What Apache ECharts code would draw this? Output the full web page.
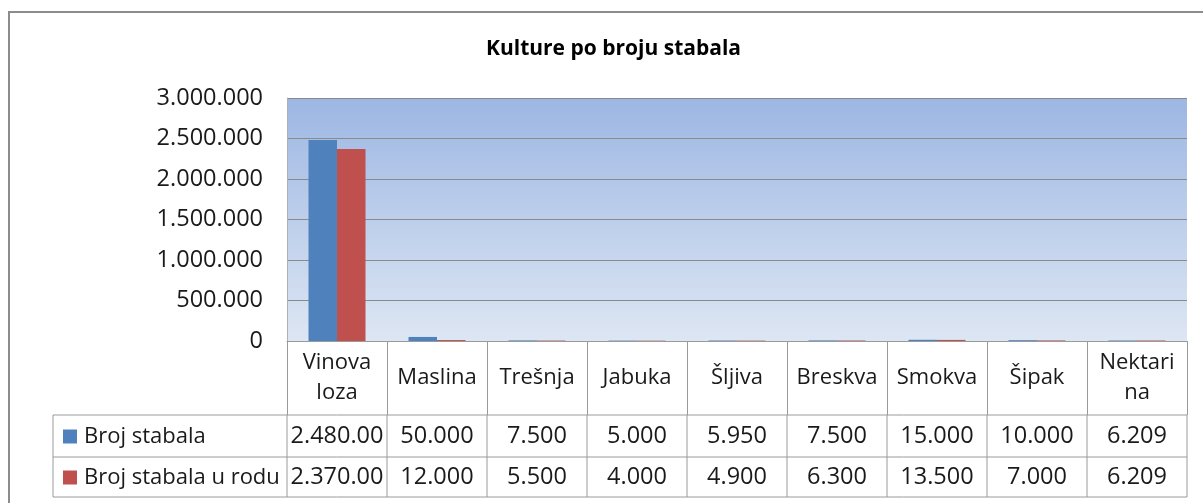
<!DOCTYPE html>
<html>
<head>
<meta charset="utf-8">
<script src="https://cdn.jsdelivr.net/npm/echarts@6/dist/echarts.min.js"></script>
<style>
html, body { margin: 0; padding: 0; background: #fff; }
#chart { width: 1203px; height: 503px; }
</style>
</head>
<body>
<div id="chart"></div>
<script>
const categories = ['Vinova loza', 'Maslina', 'Trešnja', 'Jabuka', 'Šljiva', 'Breskva', 'Smokva', 'Šipak', 'Nektarina']
const seriesNames = ['Broj stabala', 'Broj stabala u rodu']
const brojStabala = [2480000, 50000, 7500, 5000, 5950, 7500, 15000, 10000, 6209]
const brojURodu = [2370000, 12000, 5500, 4000, 4900, 6300, 13500, 7000, 6209]
const yTicks = [0, 500000, 1000000, 1500000, 2000000, 2500000, 3000000]

const FONT = '"Open Sans", "Noto Sans", sans-serif'
const TEXT = '#1a1a1a'
const LINE = '#9a9a9a'
const HEADER_H = 74 // visina reda s nazivima
const ROW_H = [42, 40]
const TABLE_LEFT = 53
const NUM_SIZE = 23.5

const fmt = (v) => String(v).replace(/\B(?=(\d{3})+(?!\d))/g, '.')

// prelamanje naziva kao u Excelu (po riječima, a predugu riječ po slovima)
const measureCtx = document.createElement('canvas').getContext('2d')
measureCtx.font = '22px ' + FONT
const wrapLabel = (txt, maxW) => {
  let lines = []
  let line = ''
  txt.split(' ').forEach(word => {
    const cand = line ? line + ' ' + word : word
    if (measureCtx.measureText(cand).width <= maxW) { line = cand; return }
    if (line) lines.push(line)
    line = ''
    for (const ch of word) {
      if (line && measureCtx.measureText(line + ch).width > maxW) { lines.push(line); line = ch }
      else line += ch
    }
  })
  if (line) lines.push(line)
  return lines.join('\n')
}

const chart = echarts.init(document.getElementById('chart'))

let option = {
  animation: false,
  title: {
    text: 'Kulture po broju stabala',
    left: 486,
    top: 39,
    padding: 0,
    textStyle: { fontFamily: FONT, fontSize: 21, fontWeight: 'bold', color: '#000' }
  },
  legend: {
    orient: 'vertical',
    left: 63,
    top: 416,
    padding: 0,
    itemGap: 0,
    itemWidth: 14,
    itemHeight: 14,
    icon: 'rect',
    selectedMode: false,
    data: seriesNames,
    textStyle: { fontFamily: FONT, fontSize: 22, color: TEXT, lineHeight: 41, padding: [0, 0, 0, 2] }
  },
  grid: {
    left: 287,
    right: 16,
    top: 98,
    bottom: 162,
    containLabel: false,
    outerBoundsMode: 'none',
    show: true,
    borderWidth: 0,
    backgroundColor: new echarts.graphic.LinearGradient(0, 0, 0, 1, [
      { offset: 0, color: '#9db7e3' },
      { offset: 1, color: '#dde6f3' }
    ])
  },
  xAxis: {
    type: 'category',
    data: categories,
    axisLine: { show: true, lineStyle: { color: LINE, width: 1 } },
    axisTick: { show: true, interval: 0, length: HEADER_H, lineStyle: { color: LINE, width: 1 } },
    axisLabel: {
      interval: 0,
      margin: HEADER_H / 2,
      verticalAlign: 'middle',
      lineHeight: 30,
      fontFamily: FONT,
      fontSize: 22,
      color: TEXT,
      formatter: (v) => wrapLabel(v, 82)
    }
  },
  yAxis: {
    type: 'value',
    min: yTicks[0],
    max: yTicks[yTicks.length - 1],
    interval: yTicks[1] - yTicks[0],
    axisLine: { show: true, lineStyle: { color: '#b0b0b0', width: 1 } },
    axisTick: { show: false },
    splitLine: { show: true, lineStyle: { color: '#8a8a8a', width: 1 } },
    axisLabel: {
      margin: 24,
      fontFamily: FONT,
      fontSize: NUM_SIZE,
      color: TEXT,
      formatter: (v) => fmt(v)
    }
  },
  series: [
    {
      name: seriesNames[0],
      type: 'bar',
      data: brojStabala,
      barWidth: 28.5,
      barGap: '0%',
      itemStyle: { color: '#4f81bd' }
    },
    {
      name: seriesNames[1],
      type: 'bar',
      data: brojURodu,
      barWidth: 28.5,
      itemStyle: { color: '#c0504d' }
    }
  ]
}
chart.setOption(option)

// tablica s podacima ispod osi
const drawTable = () => {
  const x0 = chart.convertToPixel({ xAxisIndex: 0 }, 0)
  const step = chart.convertToPixel({ xAxisIndex: 0 }, 1) - x0
  const left = x0 - step / 2
  const right = left + step * categories.length
  const axisY = chart.convertToPixel({ yAxisIndex: 0 }, 0)
  const rows = [brojStabala, brojURodu]
  let els = []
  // okvir cijelog grafikona
  els.push({
    type: 'rect', silent: true,
    shape: { x: 9, y: 12, width: 1220, height: 520 },
    style: { fill: null, stroke: '#8c8c8c', lineWidth: 2 }
  })
  let y = axisY + HEADER_H
  const tableTop = y
  els.push({ type: 'line', silent: true, shape: { x1: TABLE_LEFT, y1: y, x2: right, y2: y }, style: { stroke: LINE, lineWidth: 1 } })
  rows.forEach((vals, r) => {
    const h = ROW_H[r]
    vals.forEach((v, i) => {
      els.push({
        type: 'text', silent: true,
        x: left + step * i + step / 2,
        y: y + h / 2,
        style: {
          text: fmt(v), width: step - 2, overflow: 'truncate', ellipsis: '',
          align: 'center', verticalAlign: 'middle',
          font: NUM_SIZE + 'px ' + FONT, fill: TEXT
        }
      })
    })
    y += h
    els.push({ type: 'line', silent: true, shape: { x1: TABLE_LEFT, y1: y, x2: right, y2: y }, style: { stroke: LINE, lineWidth: 1 } })
  })
  els.push({ type: 'line', silent: true, shape: { x1: TABLE_LEFT, y1: tableTop, x2: TABLE_LEFT, y2: y }, style: { stroke: LINE, lineWidth: 1 } })
  for (let k = 0; k <= categories.length; k++) {
    const x = left + step * k
    els.push({ type: 'line', silent: true, shape: { x1: x, y1: tableTop, x2: x, y2: y }, style: { stroke: LINE, lineWidth: 1 } })
  }
  chart.setOption({ legend: { top: tableTop + 1 }, graphic: els })
}
drawTable()
</script>
</body>
</html>
